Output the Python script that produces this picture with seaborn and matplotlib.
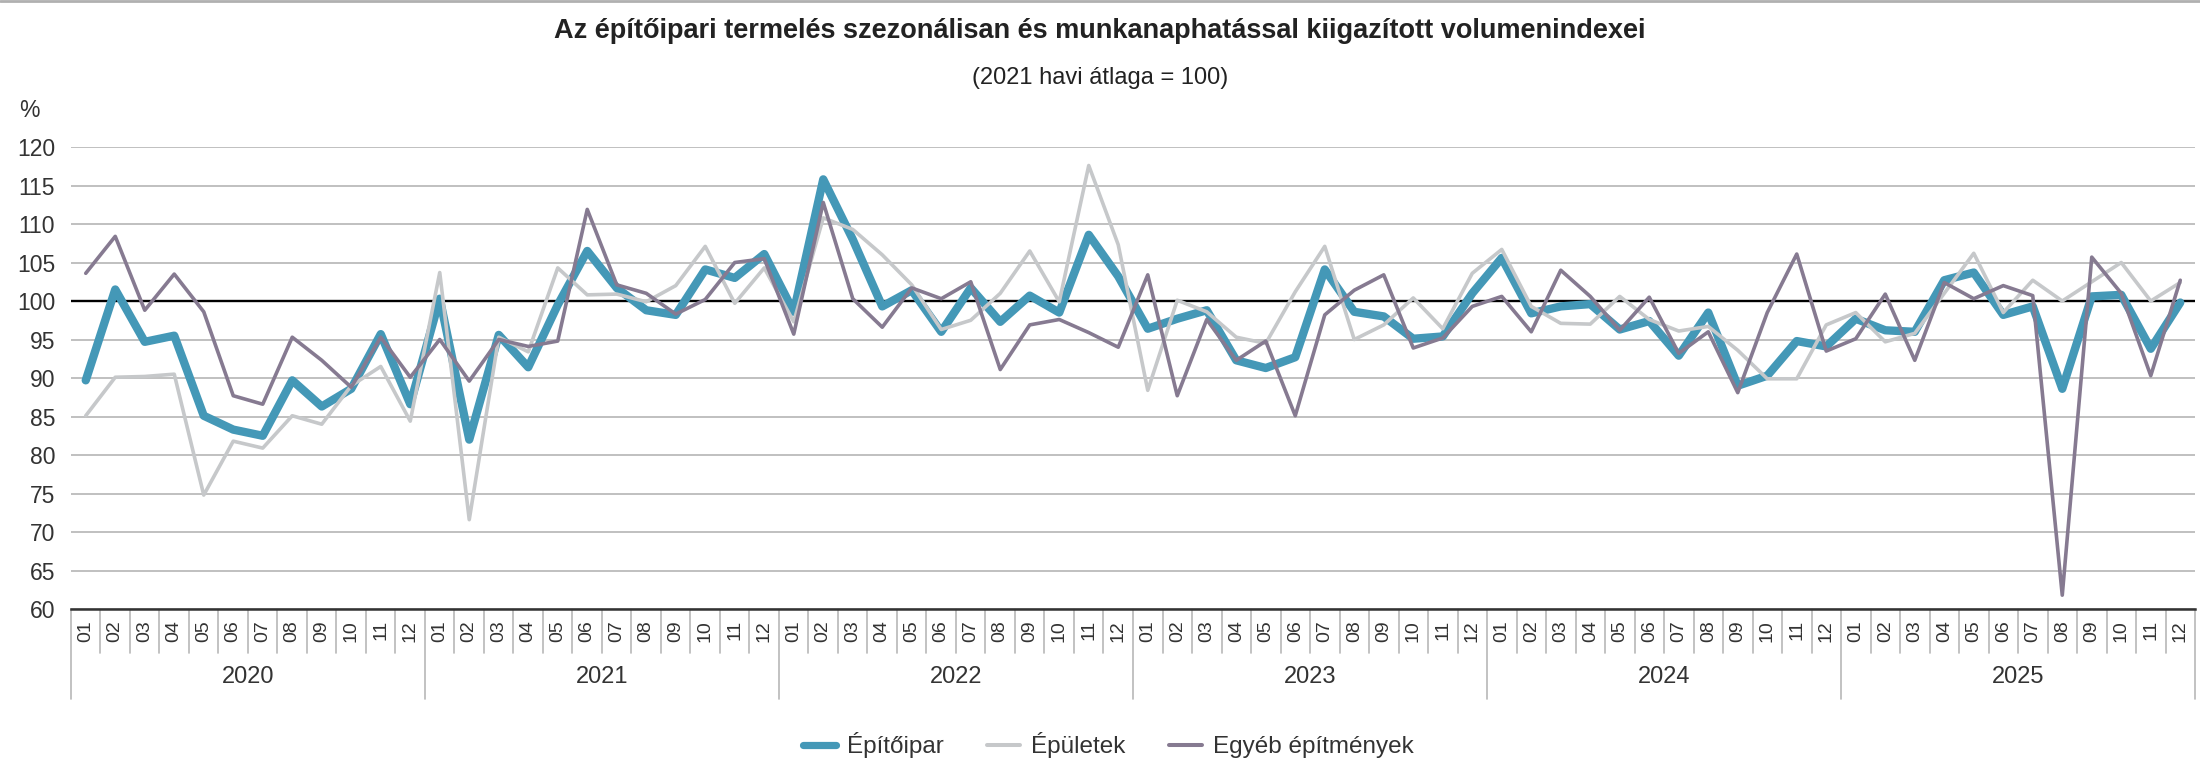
import numpy as np
import pandas as pd
import matplotlib
matplotlib.use("Agg")
import matplotlib.pyplot as plt
import matplotlib.transforms as mtransforms
from matplotlib.lines import Line2D
import seaborn as sns

# ---------------- data ----------------
years = ["2020", "2021", "2022", "2023", "2024", "2025"]
months = ["01", "02", "03", "04", "05", "06", "07", "08", "09", "10", "11", "12"]

epitoipar = [
    89.7, 101.5, 94.7, 95.5, 85.1, 83.3, 82.5, 89.7, 86.3, 88.6, 95.7, 86.6,
    100.3, 82.0, 95.6, 91.4, 99.5, 106.5, 101.7, 98.8, 98.2, 104.1, 103.0, 106.1,
    98.6, 115.8, 108.0, 99.3, 101.4, 96.0, 101.7, 97.3, 100.7, 98.5, 108.6, 103.2,
    96.4, 97.7, 98.8, 92.3, 91.3, 92.7, 104.1, 98.6, 98.0, 95.1, 95.4, 101.0,
    105.6, 98.4, 99.3, 99.6, 96.3, 97.4, 92.9, 98.5, 89.0, 90.3, 94.8, 94.1,
    97.7, 96.2, 96.0, 102.7, 103.7, 98.2, 99.3, 88.6, 100.6, 100.8, 93.8, 99.8,
]
epuletek = [
    85.1, 90.1, 90.2, 90.5, 74.8, 81.8, 80.9, 85.1, 84.0, 89.0, 91.5, 84.4,
    103.7, 71.6, 95.3, 93.4, 104.3, 100.8, 100.9, 99.9, 102.0, 107.1, 99.7, 104.3,
    97.3, 110.8, 109.3, 106.0, 102.1, 96.3, 97.5, 101.0, 106.5, 99.9, 117.6, 107.3,
    88.4, 100.1, 98.6, 95.3, 94.5, 101.2, 107.1, 95.0, 96.9, 100.4, 96.4, 103.6,
    106.7, 99.3, 97.1, 97.0, 100.6, 97.6, 96.1, 96.7, 93.6, 89.9, 89.9, 96.9,
    98.5, 94.7, 95.8, 101.0, 106.2, 98.5, 102.7, 100.0, 102.5, 105.0, 100.0, 102.4,
]
egyeb = [
    103.6, 108.4, 98.8, 103.5, 98.6, 87.7, 86.6, 95.3, 92.3, 88.8, 95.3, 90.1,
    95.0, 89.6, 95.0, 94.1, 94.8, 111.9, 102.1, 101.0, 98.3, 100.2, 105.0, 105.5,
    95.7, 112.8, 100.3, 96.6, 101.7, 100.3, 102.5, 91.1, 96.9, 97.6, 95.9, 94.0,
    103.4, 87.7, 97.6, 92.3, 94.8, 85.1, 98.2, 101.4, 103.4, 93.9, 95.2, 99.3,
    100.6, 96.0, 104.0, 100.6, 96.2, 100.5, 93.2, 96.0, 88.1, 98.5, 106.1, 93.5,
    95.1, 100.9, 92.3, 102.4, 100.3, 102.0, 100.7, 61.8, 105.7, 101.0, 90.3, 102.7,
]

series_names = ["Építőipar", "Épületek", "Egyéb építmények"]
series_values = [epitoipar, epuletek, egyeb]
colors = ["#4498b7", "#c6c8ca", "#867a91"]
widths = [6.0, 2.6, 2.6]

title = "Az építőipari termelés szezonálisan és munkanaphatással kiigazított volumenindexei"
subtitle = "(2021 havi átlaga = 100)"
y_unit = "%"

# ---------------- style ----------------
sns.set_style("white")
plt.rcParams["font.family"] = ["Liberation Sans", "DejaVu Sans"]
text_color = "#333333"

n = len(years) * len(months)
idx = np.arange(n)
frames = []
for name, vals in zip(series_names, series_values):
    frames.append(pd.DataFrame({"idx": idx, "value": vals, "series": name}))
df = pd.concat(frames, ignore_index=True)

fig = plt.figure(figsize=(22, 7.82), dpi=100)
fig.patch.set_facecolor("white")
ax = fig.add_axes([0.03227, 0.2212, 0.96546, 0.5908])

for k, (name, col, lw) in enumerate(zip(series_names, colors, widths)):
    sub = df[df["series"] == name]
    sns.lineplot(data=sub, x="idx", y="value", color=col, linewidth=lw,
                 ax=ax, legend=False, zorder=3 + k, sort=False,
                 solid_joinstyle="round", solid_capstyle="round")

ax.set_xlim(-0.5, n - 0.5)
ax.set_ylim(60, 120)
ax.set_yticks(np.arange(60, 121, 5))
ax.yaxis.grid(True, color="#b5b5b5", linewidth=1.2, zorder=0)
ax.xaxis.grid(False)
ax.set_axisbelow(True)
ax.axhline(100, color="black", linewidth=1.7, zorder=2)

for s in ["top", "right", "left"]:
    ax.spines[s].set_visible(False)
ax.spines["bottom"].set_color("#333333")
ax.spines["bottom"].set_linewidth(1.8)
ax.spines["bottom"].set_zorder(6)

ax.set_xlabel("")
ax.set_ylabel("")
ax.tick_params(axis="y", length=0, pad=11.5, labelsize=16.5, labelcolor=text_color)
ax.set_yticklabels([str(v) for v in range(60, 121, 5)])
ax.set_xticks(idx)
ax.set_xticklabels(months * len(years), rotation=90, fontsize=14, color=text_color)
ax.tick_params(axis="x", length=0, pad=8)

# category separators below axis
trans = mtransforms.blended_transform_factory(ax.transData, ax.transAxes)
for i in range(n + 1):
    ybot = -0.1948 if i % len(months) == 0 else -0.0952
    ax.plot([i - 0.5, i - 0.5], [0, ybot], transform=trans, color="#b8b8b8",
            linewidth=1.2, clip_on=False, zorder=1)
for k, yr in enumerate(years):
    ax.text(k * len(months) + (len(months) - 1) / 2, -0.1472, yr, transform=trans,
            ha="center", va="center", fontsize=17, color=text_color)

# texts
fig.text(0.5, 0.9604, title, ha="center", va="center", fontsize=19.5,
         fontweight="bold", color="#222222")
fig.text(0.5, 0.9000, subtitle, ha="center", va="center", fontsize=17, color="#222222")
fig.text(0.0085, 0.8593, y_unit, ha="left", va="center", fontsize=16.5, color=text_color)

# legend
handles = [Line2D([0], [0], color=c, linewidth=lw_h) for c, lw_h in zip(colors, [5.2, 2.9, 2.9])]
fig.legend(handles, series_names, loc="center", bbox_to_anchor=(0.5037, 0.047),
           ncol=3, frameon=False, fontsize=17.5, handlelength=1.35,
           handletextpad=0.45, columnspacing=1.8, labelcolor=text_color)

# top border
fig.add_artist(Line2D([0, 1], [0.999, 0.999], transform=fig.transFigure,
                      color="#b0b0b0", linewidth=2))

fig.savefig("out.png", dpi=100, facecolor="white")
